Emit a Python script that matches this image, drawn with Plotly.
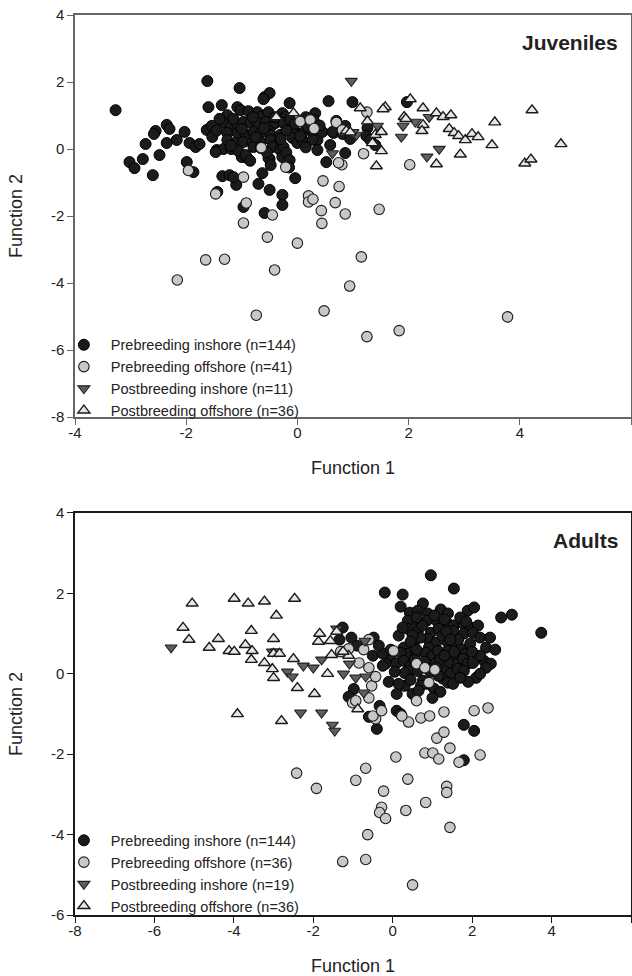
import plotly.graph_objects as go

# ---------------- Juveniles (top) ----------------
juv_pre_in = [
    (-3.27, 1.16), (-1.62, 2.03), (-1.04, 1.82), (-2.73, 0.15), (-2.55, 0.54), (-2.58, 0.45),
    (-2.35, 0.72), (-2.30, 0.60), (-2.35, 0.18), (-2.17, 0.27), (-2.03, 0.51), (-1.94, 0.18),
    (-1.83, 0.06), (-1.76, 0.15), (-3.02, -0.39), (-2.93, -0.57), (-2.78, -0.30), (-2.48, -0.18),
    (-2.60, -0.78), (-1.99, -0.39), (-1.87, -0.69), (-1.60, 1.25), (-1.36, 1.31), (-1.63, 0.57),
    (-1.54, 0.69), (-1.53, 0.36), (-1.45, -0.03), (-1.33, 0.00), (-1.19, 0.00), (-1.35, -0.81),
    (-1.22, -0.78), (-1.10, -1.07), (-1.44, -1.28), (-0.97, -1.73), (-0.70, -1.04), (-0.63, -0.72),
    (-0.50, -1.22), (-0.59, -1.91), (-1.00, -0.24), (-0.90, -0.27), (-0.50, -0.30), (-0.59, 1.55),
    (-0.50, 1.67), (-0.61, 1.49), (-0.14, 1.37), (0.56, 1.43), (-1.08, 1.25), (-1.02, 1.16),
    (-0.88, 1.13), (-1.26, 1.01), (-0.72, 1.10), (-0.63, 0.98), (-0.52, 1.10), (-0.27, 1.07),
    (-0.21, 0.96), (0.32, 1.07), (0.29, 0.87), (-1.33, 0.78), (-1.20, 0.66), (-1.08, 0.72),
    (-0.97, 0.81), (-0.84, 0.78), (-0.72, 0.78), (-0.57, 0.81), (-0.48, 0.66), (-0.39, 0.78),
    (-0.25, 0.78), (-0.13, 0.87), (-1.45, 0.55), (-1.26, 0.48), (-1.08, 0.48), (-0.93, 0.42),
    (-0.79, 0.51), (-0.66, 0.48), (-0.48, 0.42), (-0.31, 0.42), (-0.07, 0.57), (0.09, 0.48),
    (0.29, 0.48), (0.36, 0.27), (0.45, 0.51), (-1.26, 0.27), (-1.11, 0.18), (-0.97, 0.21),
    (-0.81, 0.18), (-0.66, 0.21), (-0.48, 0.27), (-0.36, 0.12), (-0.09, 0.33), (0.00, 0.18),
    (0.09, 0.27), (0.27, 0.27), (0.65, 0.48), (-1.47, -0.09), (-1.06, -0.06), (-0.93, -0.18),
    (-0.85, -0.35), (-0.79, 0.06), (-0.66, 0.03), (-0.45, 0.06), (-0.31, -0.03), (-0.25, 0.06),
    (-0.52, -0.27), (-0.48, -0.48), (-0.27, -0.24), (0.36, -0.03), (0.52, -0.39), (0.59, 0.12),
    (-1.15, -0.84), (-0.04, -0.87), (-0.27, -1.37), (-0.27, -1.67), (0.99, 1.40), (1.97, 1.40),
    (0.70, 0.84), (0.86, 0.69), (0.63, 0.51), (0.81, 0.45), (1.26, 0.63), (1.24, 0.39),
    (1.31, 0.27), (1.40, 0.12), (0.86, -0.12), (-0.20, -0.10), (0.05, 0.39), (-0.14, -0.33),
    (-1.15, 0.90), (-0.80, 0.95), (-0.40, 0.95), (-0.05, 0.75), (0.15, 0.95), (-1.00, 0.60),
    (-0.60, 0.62), (-0.20, 0.55), (0.20, 0.65), (-1.20, 0.10), (-0.75, 0.35), (-0.30, 0.30),
    (-0.55, -0.10), (0.15, 0.05), (-1.40, 0.90), (-0.15, -0.55), (0.40, 0.70), (0.95, 0.30),
]
juv_pre_off = [
    (-1.96, -0.64), (-0.97, -0.84), (-1.47, -1.34), (-0.92, -1.61), (-0.45, -1.97), (-0.97, -2.21),
    (-0.21, -0.54), (0.46, -0.95), (0.75, -1.12), (0.20, -1.40), (0.20, -1.58), (0.28, -1.50),
    (0.68, -1.60), (0.43, -1.84), (0.86, -1.94), (0.44, -2.22), (1.47, -1.80), (-0.54, -2.63),
    (0.00, -2.81), (-1.65, -3.31), (-1.31, -3.29), (-0.41, -3.61), (1.15, -3.22), (-2.16, -3.91),
    (0.94, -4.09), (-0.74, -4.96), (0.48, -4.83), (3.78, -5.01), (2.02, -0.47), (0.80, -0.47),
    (0.74, -0.41), (1.25, -5.60), (1.83, -5.42), (0.05, 0.82), (0.23, 0.87), (0.30, 0.61),
    (0.70, 0.79), (1.25, 1.10), (0.81, 0.57), (-0.65, 0.04), (1.19, -0.14),
]
juv_post_in = [
    (0.97, 2.03), (1.06, 0.42), (1.44, 0.69), (1.87, 0.36), (1.90, 0.69), (2.12, 0.81),
    (2.37, 0.95), (2.55, 0.00), (2.33, -0.23), (0.63, -0.13), (1.00, 0.50),
]
juv_post_off = [
    (-0.38, 0.95), (-0.07, 1.07), (0.88, 0.54), (1.13, 1.22), (1.58, 1.25), (1.54, 1.19),
    (1.26, 0.83), (1.40, 0.42), (1.51, 0.51), (1.35, 0.18), (1.51, -0.06), (1.42, -0.51),
    (2.03, 1.49), (1.92, 0.96), (2.26, 1.22), (2.26, 0.72), (2.24, 0.54), (2.50, 1.07),
    (2.62, 0.96), (2.76, 1.01), (2.73, 0.60), (2.50, -0.45), (2.93, -0.16), (2.82, 0.48),
    (2.90, 0.39), (3.02, 0.27), (3.14, 0.45), (3.25, 0.36), (3.50, 0.12), (3.55, 0.80),
    (4.22, 1.16), (4.74, 0.15), (4.09, -0.43), (4.20, -0.31), (1.95, 0.90), (0.95, 0.50),
]

# ---------------- Adults (bottom) ----------------
ad_pre_in = [
    (0.96, 2.45), (-0.20, 2.02), (0.25, 1.97), (1.54, 2.12), (0.20, 1.67), (0.76, 1.75),
    (0.43, 1.52), (0.63, 1.57), (0.88, 1.50), (1.21, 1.60), (1.39, 1.50), (1.89, 1.57),
    (2.05, 1.65), (2.73, 1.40), (3.00, 1.47), (3.74, 1.02), (0.38, 1.32), (0.63, 1.27),
    (0.86, 1.32), (1.14, 1.27), (1.39, 1.25), (1.54, 1.20), (1.77, 1.25), (1.97, 1.15),
    (2.15, 1.20), (0.38, 1.12), (0.63, 1.07), (0.96, 1.02), (1.16, 1.12), (1.52, 1.07),
    (1.79, 1.00), (2.02, 1.02), (0.88, 0.87), (1.09, 0.77), (0.91, 0.65), (1.39, 0.77),
    (1.59, 0.70), (1.72, 0.62), (1.84, 0.50), (2.35, 0.65), (2.58, 0.60), (2.30, 0.32),
    (2.47, 0.25), (2.35, 0.15), (2.10, -0.10), (0.28, 0.65), (0.53, 0.75), (0.38, 0.50),
    (0.58, 0.50), (0.83, 0.52), (1.01, 0.45), (1.14, 0.57), (1.39, 0.57), (1.54, 0.40),
    (1.41, 0.27), (1.64, 0.25), (1.77, 0.37), (1.89, 0.25), (2.02, 0.27), (1.29, 0.07),
    (1.46, 0.00), (1.64, 0.12), (1.79, 0.07), (1.26, -0.12), (1.39, -0.22), (1.52, -0.25),
    (0.20, 0.52), (-0.05, 0.37), (-0.18, 0.25), (0.08, 0.25), (0.28, 0.32), (0.45, 0.20),
    (0.40, 0.07), (0.63, 0.07), (0.83, 0.15), (0.96, 0.20), (1.09, 0.27), (0.76, -0.17),
    (0.88, -0.25), (1.04, -0.37), (0.71, -0.30), (0.10, -0.50), (0.30, -0.30), (-1.26, 1.15),
    (-1.04, 0.90), (-1.34, 0.85), (-0.48, 0.90), (-0.50, 0.45), (-0.25, 0.50), (-0.25, 0.20),
    (-0.98, -0.38), (-1.11, -0.57), (-0.60, -1.07), (-0.33, -0.80), (-0.40, -1.37), (0.10, -0.92),
    (1.79, -1.27), (2.05, -1.42), (1.79, -2.15), (0.50, -0.50), (0.65, -0.42), (1.20, -0.45),
    (0.20, -1.00), (2.20, 0.90), (2.20, 0.45), (0.30, 0.02), (0.55, 0.35), (0.70, 0.90),
    (1.25, 0.95), (1.05, 1.45), (1.65, 0.85), (1.95, 0.75), (1.20, 0.35), (0.50, 0.95),
    (0.75, 1.20), (1.35, 1.05), (1.70, 1.40), (0.95, 0.05), (1.55, 0.55), (1.15, -0.05),
    (0.15, 0.95), (-0.05, 0.60), (-0.35, 0.70), (0.45, -0.15), (2.20, 0.00), (2.45, 0.90),
    (1.90, -0.20), (0.05, 0.05), (-0.10, -0.20), (1.00, -0.60), (1.45, 0.85), (0.60, 1.40),
    (0.25, 1.15), (1.85, 1.30), (0.80, 0.30), (1.30, 1.35), (0.45, 0.80), (2.00, 0.55),
    (1.70, -0.10), (-0.90, 0.70), (0.15, -0.25), (1.10, 0.15), (0.60, 0.60), (1.30, 0.45),
]
ad_pre_off = [
    (-2.42, -2.47), (-1.92, -2.85), (-0.68, -2.35), (-0.93, -2.65), (-0.23, -2.92), (-0.28, -3.32),
    (-0.33, -3.45), (-0.18, -3.60), (0.33, -3.40), (0.38, -2.62), (0.08, -2.07), (0.83, -3.20),
    (1.36, -2.80), (1.36, -2.95), (0.81, -1.97), (1.01, -1.97), (1.16, -2.12), (1.67, -2.20),
    (2.20, -2.02), (1.11, -1.60), (1.29, -1.45), (0.71, -1.10), (0.93, -1.05), (0.40, -1.20),
    (0.23, -1.05), (1.29, -0.95), (2.05, -0.92), (2.40, -0.85), (0.60, -0.67), (-0.43, -1.12),
    (-0.50, -1.05), (-0.28, -0.92), (-1.01, -0.72), (-0.93, -0.67), (-0.60, -0.60), (-0.53, -0.30),
    (-0.43, -0.07), (-0.60, 0.15), (-0.85, 0.27), (0.60, 0.25), (0.81, 0.15), (1.06, 0.10),
    (0.91, -0.22), (1.44, -3.82), (-0.63, -4.00), (-1.26, -4.67), (-0.68, -4.62), (0.50, -5.25),
    (-1.31, 0.55), (-1.11, 0.62), (0.02, 0.57), (-0.73, 0.60), (-0.60, 0.85), (1.44, -1.85),
]
ad_post_in = [
    (-5.58, 0.65), (-3.03, 0.55), (-2.93, 0.55), (-2.65, 0.05), (-2.53, -0.07), (-2.25, 0.20),
    (-2.00, 0.15), (-1.79, 0.35), (-2.32, -0.97), (-1.79, -0.97), (-1.41, 1.12), (-0.70, 0.82),
    (-1.09, 0.25), (-1.24, 0.00), (-0.93, -0.10), (-0.68, -0.07), (-0.73, -0.47), (-1.52, -1.27),
    (-1.46, -1.42),
]
ad_post_off = [
    (-5.05, 1.75), (-3.99, 1.87), (-3.64, 1.75), (-3.23, 1.80), (-2.47, 1.87), (-2.93, 1.45),
    (-5.28, 1.15), (-5.13, 0.85), (-4.39, 0.87), (-4.62, 0.65), (-4.12, 0.57), (-3.99, 0.55),
    (-3.71, 0.72), (-3.56, 1.07), (-3.54, 0.57), (-3.56, 0.35), (-3.23, 0.27), (-3.00, 0.87),
    (-3.00, 0.50), (-2.85, 0.50), (-3.03, 0.12), (-3.00, -0.10), (-2.50, 0.37), (-2.40, -0.35),
    (-1.97, -0.50), (-1.84, 1.00), (-1.87, 0.80), (-1.64, 0.00), (-3.91, -1.00), (-2.80, -1.17),
    (-1.57, 0.82), (-1.41, 1.05), (-1.11, 0.45), (-1.54, 0.47), (-0.88, -0.88), (-1.25, 0.55),
]

juv_labels = ["Prebreeding inshore (n=144)", "Prebreeding offshore (n=41)",
              "Postbreeding inshore (n=11)", "Postbreeding offshore (n=36)"]
ad_labels = ["Prebreeding inshore (n=144)", "Prebreeding offshore (n=36)",
             "Postbreeding inshore (n=19)", "Postbreeding offshore (n=36)"]

juv_xticks = [-4, -2, 0, 2, 4, 6]
juv_yticks = [-8, -6, -4, -2, 0, 2, 4]
ad_xticks = [-8, -6, -4, -2, 0, 2, 4, 6]
ad_yticks = [-6, -4, -2, 0, 2, 4]

FONT = "Liberation Sans, Arial, sans-serif"

styles = [
    dict(symbol="circle", size=11, color="#1b1b1b", line=dict(color="#000000", width=1)),
    dict(symbol="circle", size=10.5, color="#c8c8c8", line=dict(color="#1a1a1a", width=1.1)),
    dict(symbol="triangle-down", size=10.5, color="#5e5e5e", line=dict(color="#222222", width=1.1)),
    dict(symbol="triangle-up", size=10.5, color="#e6e6e6", line=dict(color="#1a1a1a", width=1.4)),
]

fig = go.Figure()


def add_panel(groups, labels, xa, ya, legend):
    for pts, lab, st in zip(groups, labels, styles):
        fig.add_trace(go.Scatter(
            x=[p[0] for p in pts], y=[p[1] for p in pts], mode="markers",
            name=lab, marker=st, xaxis=xa, yaxis=ya, legend=legend,
            hoverinfo="x+y+name",
        ))


add_panel([juv_pre_in, juv_pre_off, juv_post_in, juv_post_off], juv_labels, "x", "y", "legend")
add_panel([ad_pre_in, ad_pre_off, ad_post_in, ad_post_off], ad_labels, "x2", "y2", "legend2")


def axis(ticks, rng, domain, anchor, title, color, standoff, labelshift=0):
    return dict(
        range=rng, domain=domain, anchor=anchor, tickmode="array", tickvals=ticks,
        ticktext=[str(t) for t in ticks], ticks="outside", ticklen=6, tickwidth=1.2,
        tickcolor=color, showline=True, linecolor=color, linewidth=1.5, mirror=True,
        showgrid=False, zeroline=False, automargin=False, ticklabelstandoff=labelshift,
        tickfont=dict(family=FONT, size=15, color="#222222"),
        title=dict(text=title, font=dict(family=FONT, size=18, color="#222222"), standoff=standoff),
    )


top_dom = [0.5533, 1.0]
bot_dom = [0.0, 0.4467]

legend_common = dict(xanchor="left", yanchor="bottom", bgcolor="rgba(0,0,0,0)",
                     font=dict(family=FONT, size=14.5, color="#222222"),
                     tracegroupgap=0, itemwidth=44)

fig.update_layout(
    width=632, height=976,
    margin=dict(l=75, r=1, t=15, b=61),
    paper_bgcolor="white", plot_bgcolor="white",
    font=dict(family=FONT, color="#222222"),
    xaxis=axis(juv_xticks, [-4, 6], [0, 1], "y", "Function 1", "#666666", 22, -5),
    yaxis=axis(juv_yticks, [-8, 4], top_dom, "x", "Function 2", "#666666", 24),
    xaxis2=axis(ad_xticks, [-8, 6], [0, 1], "y2", "Function 1", "#1a1a1a", 28, -5),
    yaxis2=axis(ad_yticks, [-6, 4], bot_dom, "x2", "Function 2", "#1a1a1a", 24),
    legend=dict(x=-0.0326, y=0.5424, **legend_common),
    legend2=dict(x=-0.0326, y=-0.0082, **legend_common),
    annotations=[
        dict(text="<b>Juveniles</b>", xref="paper", yref="paper", x=0.981, y=0.97,
             xanchor="right", yanchor="middle", showarrow=False,
             font=dict(family=FONT, size=21, color="#222222")),
        dict(text="<b>Adults</b>", xref="paper", yref="paper", x=0.981, y=0.4156,
             xanchor="right", yanchor="middle", showarrow=False,
             font=dict(family=FONT, size=21, color="#222222")),
    ],
)

fig.write_html(
    "out.html",
    config={"displayModeBar": False},
    post_script="document.body.style.margin='0';document.body.style.overflow='hidden';",
)
